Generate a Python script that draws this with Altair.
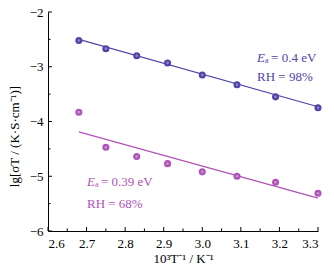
import altair as alt
import pandas as pd

# data
inv_T = [2.68, 2.75, 2.83, 2.91, 3.00, 3.09, 3.19, 3.30]
lg_98 = [-2.52, -2.67, -2.80, -2.93, -3.15, -3.33, -3.55, -3.75]
lg_68 = [-3.83, -4.47, -4.64, -4.77, -4.92, -5.00, -5.11, -5.31]
fit_x = [2.68, 3.30]
fit_98 = [-2.50, -3.73]
fit_68 = [-4.19, -5.40]
series = ["RH = 98%", "RH = 68%"]
colors = ["#4f44a8", "#b052b8"]
text_colors = ["#5d52b4", "#b45cbc"]
x_major = [2.6, 2.7, 2.8, 2.9, 3.0, 3.1, 3.2, 3.3]
x_minor = [2.65, 2.75, 2.85, 2.95, 3.05, 3.15, 3.25]
y_major = [-6, -5, -4, -3, -2]
y_minor = [-5.5, -4.5, -3.5, -2.5]
# annotation anchors (data units)
ann_x = [3.142, 2.701]
ann_y1 = [-2.84, -5.105]
ann_y2 = [-3.19, -5.507]
ann_ea = ["= 0.4 eV", "= 0.39 eV"]

FONT = "Liberation Serif"
W, H = 270, 219

pts = pd.DataFrame({
    "x": inv_T * 2,
    "y": lg_98 + lg_68,
    "s": [series[0]] * len(inv_T) + [series[1]] * len(inv_T),
})
fits = pd.DataFrame({
    "x": fit_x * 2,
    "y": fit_98 + fit_68,
    "s": [series[0]] * 2 + [series[1]] * 2,
})
ann = pd.DataFrame({
    "x": ann_x, "y1": ann_y1, "y2": ann_y2, "ea": ann_ea, "rh": series,
    "s": series,
})

xs = alt.Scale(domain=[2.6, 3.3], nice=False, zero=False)
ys = alt.Scale(domain=[-6, -2], nice=False, zero=False)
cs = alt.Scale(domain=series, range=colors)
tcs = alt.Scale(domain=series, range=text_colors)

xaxis = alt.Axis(values=x_major, format=".1f", ticks=False, grid=False, labelOverlap=False,
                 title="10³T⁻¹ / K⁻¹", labelPadding=6, titlePadding=2)
yaxis = alt.Axis(values=y_major, format="d", ticks=False, grid=False, labelOverlap=False,
                 title="lg[σT / (K·S·cm⁻¹)]", labelPadding=5, titlePadding=8, titleY=124)


def X(f):
    return alt.X(f, scale=xs, axis=xaxis)


def Y(f):
    return alt.Y(f, scale=ys, axis=yaxis)


base = alt.Chart(pts)

lines = alt.Chart(fits).mark_line(strokeWidth=1.1).encode(
    x=X("x:Q"), y=Y("y:Q"),
    color=alt.Color("s:N", scale=cs, legend=None),
    detail="s:N",
)

points = base.mark_circle(size=50, opacity=1).encode(
    x=X("x:Q"), y=Y("y:Q"),
    color=alt.Color("s:N", scale=cs, legend=None),
)
highlight = base.mark_circle(size=7, opacity=0.35, color="white", dx=-1, dy=-1).encode(
    x=X("x:Q"), y=Y("y:Q"),
)

ann_base = alt.Chart(ann)
e_txt = ann_base.mark_text(font=FONT, fontSize=13, fontStyle="italic", align="left").encode(
    x=X("x:Q"), y=Y("y1:Q"), text=alt.value("E"),
    color=alt.Color("s:N", scale=tcs, legend=None))
a_txt = ann_base.mark_text(font=FONT, fontSize=8, align="left", dx=8, dy=3).encode(
    x=X("x:Q"), y=Y("y1:Q"), text=alt.value("a"),
    color=alt.Color("s:N", scale=tcs, legend=None))
ea_txt = ann_base.mark_text(font=FONT, fontSize=13, align="left", dx=14).encode(
    x=X("x:Q"), y=Y("y1:Q"), text="ea:N",
    color=alt.Color("s:N", scale=tcs, legend=None))
rh_txt = ann_base.mark_text(font=FONT, fontSize=13, align="left").encode(
    x=X("x:Q"), y=Y("y2:Q"), text="rh:N",
    color=alt.Color("s:N", scale=tcs, legend=None))


def xticks(vals, length):
    return alt.Chart(pd.DataFrame({"v": vals})).mark_rule(color="black", strokeWidth=1).encode(
        x=X("v:Q"), y=alt.value(H), y2=alt.value(H - length))


def yticks(vals, length):
    return alt.Chart(pd.DataFrame({"v": vals})).mark_rule(color="black", strokeWidth=1).encode(
        y=Y("v:Q"), x=alt.value(0), x2=alt.value(length))


chart = alt.layer(
    lines, points, highlight, e_txt, a_txt, ea_txt, rh_txt,
    xticks(x_major, 4), xticks(x_minor, 2.5), yticks(y_major, 4), yticks(y_minor, 2.5),
).properties(
    width=W, height=H,
    background="white",
    autosize=alt.AutoSizeParams(type="none"),
    padding={"left": 48, "top": 12, "right": 16, "bottom": 42},
).configure_view(stroke=None).configure_axis(
    labelFont=FONT, titleFont=FONT, labelFontSize=13, titleFontSize=13,
    labelColor="black", titleColor="black", titleFontWeight="normal",
    domainColor="black", domainWidth=1,
)

chart.save("out.html", embed_options={"renderer": "svg", "actions": False})
